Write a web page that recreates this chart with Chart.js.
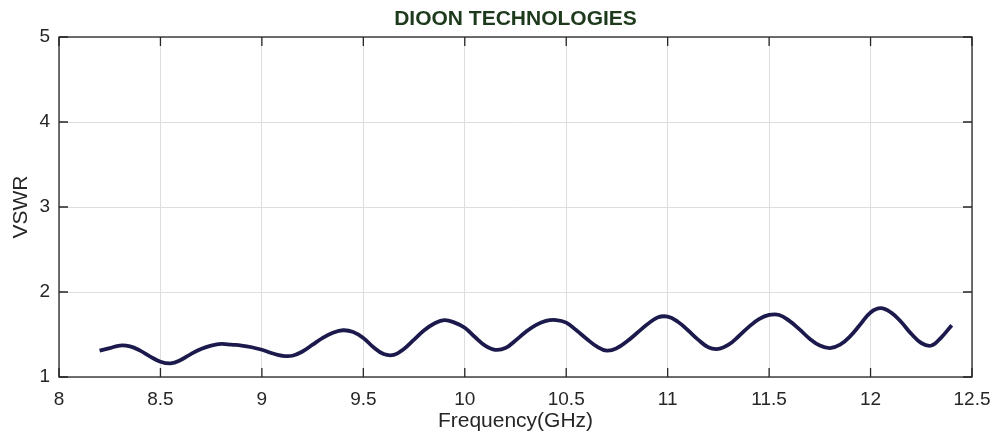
<!DOCTYPE html>
<html>
<head>
<meta charset="utf-8">
<script src="https://cdn.jsdelivr.net/npm/chart.js@4"></script>
<style>
  html, body { margin: 0; padding: 0; background: #fff; }
  #wrap { width: 993px; height: 436px; }
</style>
</head>
<body>
<div id="wrap"><canvas id="vswr"></canvas></div>
<script>
  const TITLE = "DIOON TECHNOLOGIES";
  const X_TICKS = [8, 8.5, 9, 9.5, 10, 10.5, 11, 11.5, 12, 12.5];
  const Y_TICKS = [1, 2, 3, 4, 5];

  const freq = [
    8.20, 8.25, 8.30, 8.35, 8.40, 8.45, 8.50, 8.55, 8.60, 8.65,
    8.70, 8.75, 8.80, 8.85, 8.90, 8.95, 9.00, 9.05, 9.10, 9.15,
    9.20, 9.25, 9.30, 9.35, 9.40, 9.45, 9.50, 9.55, 9.60, 9.65,
    9.70, 9.75, 9.80, 9.85, 9.90, 9.95, 10.00, 10.05, 10.10, 10.15,
    10.20, 10.25, 10.30, 10.35, 10.40, 10.45, 10.50, 10.55, 10.60, 10.65,
    10.70, 10.75, 10.80, 10.85, 10.90, 10.95, 11.00, 11.05, 11.10, 11.15,
    11.20, 11.25, 11.30, 11.35, 11.40, 11.45, 11.50, 11.55, 11.60, 11.65,
    11.70, 11.75, 11.80, 11.85, 11.90, 11.95, 12.00, 12.05, 12.10, 12.15,
    12.20, 12.25, 12.30, 12.35, 12.40
  ];
  const vswr = [
    1.31, 1.34, 1.37, 1.36, 1.31, 1.24, 1.18, 1.16, 1.20, 1.27,
    1.33, 1.37, 1.39, 1.38, 1.37, 1.35, 1.32, 1.28, 1.25, 1.25,
    1.30, 1.38, 1.46, 1.52, 1.55, 1.53, 1.46, 1.35, 1.27, 1.26,
    1.33, 1.44, 1.55, 1.63, 1.67, 1.64, 1.58, 1.47, 1.37, 1.32,
    1.34, 1.43, 1.53, 1.61, 1.66, 1.67, 1.64, 1.55, 1.45, 1.36,
    1.31, 1.34, 1.42, 1.52, 1.62, 1.70, 1.71, 1.65, 1.55, 1.44,
    1.35, 1.33, 1.38, 1.48, 1.59, 1.68, 1.73, 1.73, 1.66, 1.56,
    1.45, 1.37, 1.34, 1.38, 1.48, 1.62, 1.76, 1.81, 1.76, 1.65,
    1.51, 1.40, 1.37, 1.47, 1.61
  ];

  const FONT = "Liberation Sans, Arial, sans-serif";
  const axisColor = "#262626";
  const gridColor = "#dedede";

  // title centred over the plot box, box outline, inward ticks on all sides
  const boxPlugin = {
    id: "box",
    afterDraw(chart) {
      const { ctx, chartArea: a, scales } = chart;
      ctx.save();
      ctx.fillStyle = "#1e3a1c";
      ctx.font = "bold 21px " + FONT;
      ctx.textAlign = "center";
      ctx.textBaseline = "middle";
      ctx.fillText(TITLE, (a.left + a.right) / 2, 19);

      ctx.strokeStyle = axisColor;
      ctx.lineWidth = 1.3;
      ctx.strokeRect(a.left, a.top, a.right - a.left, a.bottom - a.top);
      const len = 9;
      ctx.beginPath();
      X_TICKS.forEach((v) => {
        const px = scales.x.getPixelForValue(v);
        ctx.moveTo(px, a.bottom); ctx.lineTo(px, a.bottom - len);
        ctx.moveTo(px, a.top); ctx.lineTo(px, a.top + len);
      });
      Y_TICKS.forEach((v) => {
        const py = scales.y.getPixelForValue(v);
        ctx.moveTo(a.left, py); ctx.lineTo(a.left + len, py);
        ctx.moveTo(a.right, py); ctx.lineTo(a.right - len, py);
      });
      ctx.stroke();
      ctx.restore();
    }
  };

  new Chart(document.getElementById("vswr"), {
    type: "line",
    data: {
      datasets: [{
        data: freq.map((f, i) => ({ x: f, y: vswr[i] })),
        borderColor: "#1c1a4c",
        borderWidth: 3.8,
        pointRadius: 0,
        tension: 0.4,
        fill: false
      }]
    },
    options: {
      responsive: true,
      maintainAspectRatio: false,
      animation: false,
      layout: { padding: { left: 0, right: 21, top: 37, bottom: 0 } },
      plugins: {
        legend: { display: false },
        tooltip: { enabled: false },
        title: { display: false }
      },
      scales: {
        x: {
          type: "linear",
          min: 8,
          max: 12.5,
          afterBuildTicks: (s) => { s.ticks = X_TICKS.map((v) => ({ value: v })); },
          afterFit: (s) => { s.height = 59; s.paddingLeft = 0; s.paddingRight = 0; },
          ticks: {
            color: axisColor,
            padding: 11,
            maxRotation: 0,
            callback: (v) => String(v),
            font: { family: FONT, size: 19 }
          },
          grid: { color: gridColor, drawTicks: false },
          border: { display: false },
          title: {
            display: true,
            text: "Frequency(GHz)",
            color: axisColor,
            padding: { top: 0, bottom: 2 },
            font: { family: FONT, size: 21 }
          }
        },
        y: {
          min: 1,
          max: 5,
          afterBuildTicks: (s) => { s.ticks = Y_TICKS.map((v) => ({ value: v })); },
          afterFit: (s) => { s.width = 59; s.paddingTop = 0; s.paddingBottom = 0; },
          ticks: {
            color: axisColor,
            padding: 9,
            callback: (v) => String(v),
            font: { family: FONT, size: 19 }
          },
          grid: { color: gridColor, drawTicks: false },
          border: { display: false },
          title: {
            display: true,
            text: "VSWR",
            color: axisColor,
            padding: { top: 9, bottom: 0 },
            font: { family: FONT, size: 21 }
          }
        }
      }
    },
    plugins: [boxPlugin]
  });
</script>
</body>
</html>
